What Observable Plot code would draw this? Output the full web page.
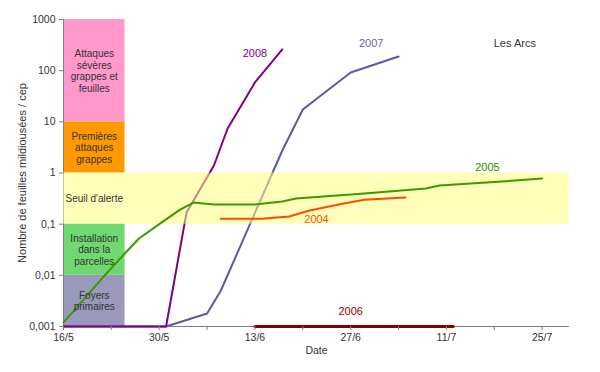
<!DOCTYPE html>
<html><head><meta charset="utf-8">
<script src="https://cdn.jsdelivr.net/npm/d3@7"></script>
<script src="https://cdn.jsdelivr.net/npm/@observablehq/plot@0.6"></script>
<style>
body{margin:0;background:#fff}
#chart svg{font-family:"Liberation Sans",Arial,sans-serif}
</style>
</head><body><div id="chart"></div>
<script>
// ---- data ----
const xStart = "16/5", xEnd = "29/7";
const xTickLabels = ["16/5","30/5","13/6","27/6","11/7","25/7"];
const yTicks = [0.001, 0.01, 0.1, 1, 10, 100, 1000];

const bandLabels = ["Foyers\nprimaires","Installation\ndans la\nparcelles","Seuil d'alerte","Premières\nattaques\ngrappes","Attaques\nsévères\ngrappes et\nfeuilles"];
const bandLow   = [0.001, 0.01, 0.1, 1, 10];
const bandHigh  = [0.01, 0.1, 1, 10, 1000];
const bandEnd   = ["25/5","25/5","29/7","25/5","25/5"];
const bandColors = ["#9999BB","#6FD870","#FFFF80","#FF9900","#FF99CC"];

const dates2004  = ["8/6","14/6","18/6","21/6","26/6","29/6","5/7"];
const values2004 = [0.127,0.127,0.141,0.185,0.254,0.30,0.333];

const dates2005  = ["16/5","22/5","25/5","27/5","30/5","2/6","4/6","7/6","13/6","17/6","19/6","29/6","8/7","10/7","21/7","25/7"];
const values2005 = [0.0012,0.0099,0.027,0.052,0.1,0.19,0.265,0.243,0.243,0.277,0.318,0.398,0.50,0.57,0.71,0.78];

const dates2006  = ["13/6","12/7"];
const values2006 = [0.001,0.001];

const dates2007  = ["16/5","31/5","6/6","8/6","17/6","20/6","27/6","4/7"];
const values2007 = [0.001,0.001,0.0018,0.005,2.75,17.4,92,189];

const dates2008  = ["16/5","31/5","3/6","7/6","9/6","13/6","17/6"];
const values2008 = [0.001,0.001,0.17,1.4,7.4,59,260];

const seriesNames  = ["2004","2005","2006","2007","2008"];
const seriesColors = ["#FF4A00","#3A9A00","#800000","#5A5AA0","#800080"];
const labelColors  = ["#FF4A00","#2E8B00","#990000","#66669A","#800080"];
const labelDates   = ["22/6","17/7","27/6","30/6","13/6"];
const labelValues  = [0.123,1.28,0.00197,340,217];

const noteText = "Les Arcs", noteDate = "21/7", noteValue = 340;
const yTitle = "Nombre de feuilles mildiousées / cep";
const xTitle = "Date";

// ---- helpers ----
const parseDM = s => { const [d, m] = s.split("/").map(Number); return new Date(Date.UTC(2008, m - 1, d)); };
const table = (ds, vs) => ds.map((d, i) => ({date: parseDM(d), value: vs[i]}));
const x0 = parseDM(xStart), x1 = parseDM(xEnd);
const weekTicks = d3.utcDay.range(x0, d3.utcDay.offset(parseDM(xTickLabels[xTickLabels.length-1]), 1), 7);
const labelMap = new Map(xTickLabels.map(s => [+parseDM(s), s]));
const yFmt = d => String(d).replace(".", ",");

const bands = bandLabels.map((t, i) => ({label: t, lo: bandLow[i], hi: bandHigh[i], x1: x0, x2: parseDM(bandEnd[i]), color: bandColors[i],
  mid: new Date((+x0 + +parseDM(bandEnd[0])) / 2), ym: Math.sqrt(bandLow[i] * bandHigh[i])}));
const yellow = bands.filter(b => b.color === "#FFFF80");
const solid = bands.filter(b => b.color !== "#FFFF80");

const s = {
  "2004": table(dates2004, values2004),
  "2005": table(dates2005, values2005),
  "2006": table(dates2006, values2006),
  "2007": table(dates2007, values2007),
  "2008": table(dates2008, values2008)
};
const col = n => seriesColors[seriesNames.indexOf(n)];
const labels = seriesNames.map((n, i) => ({text: n, date: parseDM(labelDates[i]), value: labelValues[i], color: labelColors[i]}));

const chart = Plot.plot({
  width: 600, height: 372,
  marginLeft: 63, marginRight: 31, marginTop: 19, marginBottom: 46,
  style: {fontFamily: '"Liberation Sans", Arial, sans-serif', background: "#fff"},
  x: {type: "utc", domain: [x0, x1]},
  y: {type: "log", domain: [0.001, 1000]},
  marks: [
    Plot.rect(solid, {x1: "x1", x2: "x2", y1: "lo", y2: "hi", fill: "color"}),
    Plot.ruleX([x0], {stroke: "#808080"}),
    Plot.ruleY([0.001], {stroke: "#808080"}),
    Plot.line(s["2007"], {x: "date", y: "value", stroke: col("2007"), strokeWidth: 2}),
    Plot.line(s["2008"], {x: "date", y: "value", stroke: col("2008"), strokeWidth: 2}),
    Plot.rect(yellow, {x1: "x1", x2: "x2", y1: "lo", y2: "hi", fill: "color", fillOpacity: 0.55}),
    Plot.line(s["2005"], {x: "date", y: "value", stroke: col("2005"), strokeWidth: 2}),
    Plot.line(s["2004"], {x: "date", y: "value", stroke: col("2004"), strokeWidth: 2}),
    Plot.line(s["2006"], {x: "date", y: "value", stroke: col("2006"), strokeWidth: 3}),
    Plot.text(bands, {x: "mid", y: "ym", text: "label", fontSize: 10, lineHeight: 1.15, fill: "#333"}),
    Plot.text(labels, {x: "date", y: "value", text: "text", fill: "color", fontSize: 11}),
    Plot.text([noteText], {x: parseDM(noteDate), y: noteValue, text: d => d, fontSize: 11, fill: "#333"}),
    Plot.axisY({ticks: yTicks, tickFormat: yFmt, tickSize: 4, tickPadding: 4, fontSize: 10.5, stroke: "#808080", fill: "#333", label: null}),
    Plot.axisX({ticks: weekTicks, tickFormat: d => labelMap.get(+d) ?? "", tickSize: 4, tickPadding: 3, fontSize: 10.5, stroke: "#808080", fill: "#333", label: null}),
    Plot.text([xTitle], {frameAnchor: "bottom", dy: 27, text: d => d, fontSize: 10.5, fill: "#333"}),
    Plot.text([yTitle], {frameAnchor: "left", dx: -41, rotate: -90, textAnchor: "middle", text: d => d, fontSize: 11, fill: "#333"})
  ]
});
document.getElementById("chart").append(chart);
</script>
</body></html>
